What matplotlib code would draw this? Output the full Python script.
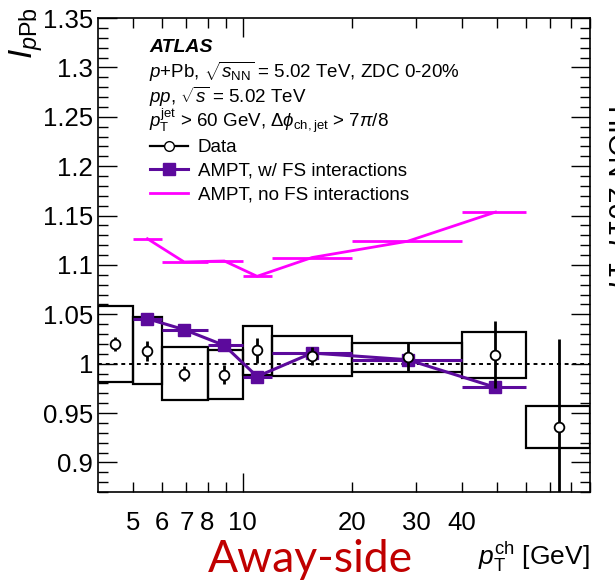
import matplotlib
matplotlib.use('Agg')
import matplotlib.pyplot as plt
from matplotlib.lines import Line2D
from matplotlib.ticker import FixedLocator, MultipleLocator

plt.rcParams['font.family'] = ['Liberation Sans', 'DejaVu Sans']
plt.rcParams['mathtext.fontset'] = 'custom'
plt.rcParams['mathtext.rm'] = 'Liberation Sans'
plt.rcParams['mathtext.it'] = 'Liberation Sans:italic'
plt.rcParams['mathtext.bf'] = 'Liberation Sans:bold'

# pT bins [GeV]
bin_lo = [4, 5, 6, 8, 10, 12, 20, 40, 60]
bin_hi = [5, 6, 8, 10, 12, 20, 40, 60, 90]
pt_mean = [4.45, 5.47, 6.9, 8.9, 10.95, 15.5, 28.4, 49.5, 74]

# data: I_pPb with stat and syst uncertainties
ipa = [1.020, 1.013, 0.990, 0.989, 1.0135, 1.008, 1.0065, 1.009, 0.936]
ipa_stat = [0.007, 0.010, 0.008, 0.010, 0.013, 0.009, 0.014, 0.034, 0.089]
ipa_syst = [0.0385, 0.034, 0.027, 0.025, 0.0245, 0.020, 0.0145, 0.023, 0.0215]

# AMPT curves, bins 5-6 ... 40-60
ampt_fs = [1.0455, 1.0345, 1.0185, 0.987, 1.0108, 1.004, 0.976]
ampt_nofs = [1.1265, 1.103, 1.104, 1.0885, 1.1075, 1.124, 1.1535]

purple = '#5c0a9c'
magenta = '#ff00ff'

fig = plt.figure(figsize=(6.15, 5.83), dpi=100)
ax = fig.add_axes([0.1593, 0.156, 0.80, 0.813])

ax.set_xscale('log')
ax.set_xlim(4, 90)
ax.set_ylim(0.87, 1.35)

ax.axhline(1.0, color='k', ls=(0, (2, 2)), lw=1.4, zorder=1)

# systematic boxes
widths = [h - l for l, h in zip(bin_lo, bin_hi)]
bottoms = [v - s for v, s in zip(ipa, ipa_syst)]
heights = [2 * s for s in ipa_syst]
ax.bar(bin_lo, heights, width=widths, bottom=bottoms, align='edge',
       fill=False, edgecolor='k', lw=1.6, zorder=2)

# AMPT without final-state interactions
ax.hlines(ampt_nofs, bin_lo[1:8], bin_hi[1:8], color=magenta, lw=2, zorder=3)
ax.plot(pt_mean[1:8], ampt_nofs, color=magenta, lw=2, zorder=3)

# AMPT with final-state interactions
ax.hlines(ampt_fs, bin_lo[1:8], bin_hi[1:8], color=purple, lw=2.2, zorder=4)
ax.plot(pt_mean[1:8], ampt_fs, color=purple, lw=2.2, marker='s', ms=8,
        zorder=4)

# data points
ax.errorbar(pt_mean, ipa, yerr=ipa_stat, fmt='none', ecolor='k', elinewidth=2,
            zorder=5)
ax.plot(pt_mean, ipa, ls='none', marker='o', ms=7, mfc='white', mec='k',
        mew=1.3, zorder=6)

# axis ticks
ax.xaxis.set_major_locator(FixedLocator([10]))
ax.set_xticks([10], labels=['10'])
minor_pos = [5, 6, 7, 8, 9, 20, 30, 40, 50, 60, 70, 80, 90]
minor_lab = ['5', '6', '7', '8', '', '20', '30', '40', '', '', '', '', '']
ax.set_xticks(minor_pos, labels=minor_lab, minor=True)
ax.yaxis.set_minor_locator(MultipleLocator(0.01))
ax.set_yticks([0.9, 0.95, 1.0, 1.05, 1.1, 1.15, 1.2, 1.25, 1.3, 1.35],
              labels=['0.9', '0.95', '1', '1.05', '1.1', '1.15', '1.2', '1.25',
                      '1.3', '1.35'])
ax.tick_params(which='both', direction='in', top=True, right=True,
               labelsize=18.5, width=1)
ax.tick_params(which='major', length=14)
ax.tick_params(which='minor', length=7)
ax.tick_params(axis='x', which='both', pad=13.5)
ax.tick_params(axis='y', which='both', pad=3.5)
for s in ax.spines.values():
    s.set_linewidth(1.2)

# labels
fig.text(0.042, 0.988, r'$I_{p\mathrm{Pb}}$', rotation=90, ha='center',
         va='top', fontsize=24)
fig.text(590 / 615, 1 - 557 / 583, r'$p_{\mathrm{T}}^{\mathrm{ch}}$ [GeV]',
         ha='right', va='center', fontsize=19)
fig.text(310 / 615, 1 - 560 / 583, 'Away-side', ha='center', va='center',
         fontsize=32, color='#c00000', family='Lato')
fig.text(600 / 615, 1 - 107 / 583, 'HION-2017-17', rotation=-90, ha='left',
         va='top', fontsize=21)

# annotations
tx = 149 / 615
fig.text(tx, 1 - 47 / 583, 'ATLAS', fontsize=14, weight='bold', style='italic',
         va='center')
fig.text(tx, 1 - 72 / 583,
         r'$p$+Pb, $\sqrt{s_{\mathrm{NN}}}$ = 5.02 TeV, ZDC 0-20%',
         fontsize=13.5, va='center')
fig.text(tx, 1 - 97 / 583, r'$pp$, $\sqrt{s}$ = 5.02 TeV', fontsize=13.5,
         va='center')
fig.text(tx, 1 - 121 / 583,
         r'$p_{\mathrm{T}}^{\mathrm{jet}}$ > 60 GeV, $\Delta\phi_{\mathrm{ch,jet}}$ > 7$\pi$/8',
         fontsize=13.5, va='center')

handles = [
    Line2D([], [], color='k', lw=1.6, marker='o', ms=7, mfc='white', mec='k'),
    Line2D([], [], color=purple, lw=2.2, marker='s', ms=8),
    Line2D([], [], color=magenta, lw=2),
]
labels = ['Data', 'AMPT, w/ FS interactions', 'AMPT, no FS interactions']
fig.legend(handles, labels, loc='upper left',
           bbox_to_anchor=(150 / 615, 1 - 139 / 583), frameon=False,
           fontsize=13.5, handlelength=2.0, handletextpad=0.55,
           labelspacing=0.36, borderaxespad=0, borderpad=0)

fig.savefig('out.png', dpi=100)
